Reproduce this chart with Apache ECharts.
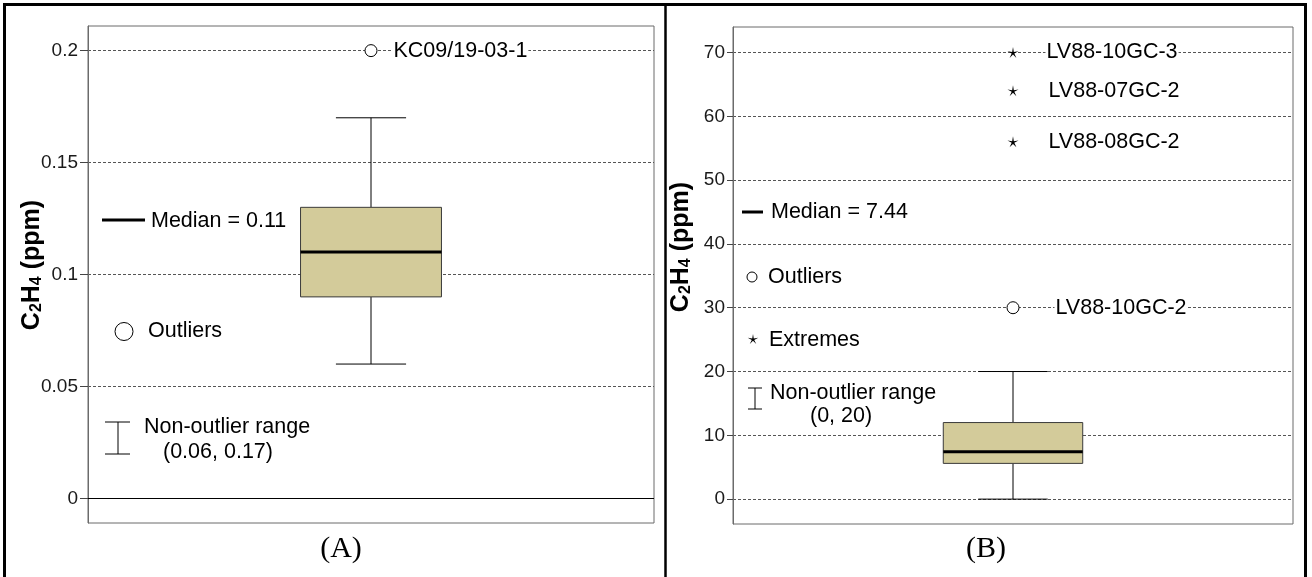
<!DOCTYPE html>
<html>
<head>
<meta charset="utf-8">
<title>C2H4 box plots</title>
<script src="https://cdn.jsdelivr.net/npm/echarts@6/dist/echarts.min.js"></script>
<style>
  html, body { margin: 0; padding: 0; background: #fff; }
  #chart { width: 1312px; height: 577px; }
</style>
</head>
<body>
<div id="chart"></div>
<script>
// ---- data: panel (A) ----
const categoryA = ['A'];
const statsA = [0.06, 0.09, 0.11, 0.13, 0.17];   // low whisker, Q1, median, Q3, high whisker
const outlierNamesA = ['KC09/19-03-1'];
const outlierValuesA = [0.2];
const ticksA = [0, 0.05, 0.1, 0.15, 0.2];

// ---- data: panel (B) ----
const categoryB = ['B'];
const statsB = [0, 5.6, 7.44, 12, 20];
const outlierNamesB = ['LV88-10GC-2'];
const outlierValuesB = [30];
const extremeNamesB = ['LV88-10GC-3', 'LV88-07GC-2', 'LV88-08GC-2'];
const extremeValuesB = [70, 64, 56];
const ticksB = [0, 10, 20, 30, 40, 50, 60, 70];

const SANS = '"Liberation Sans", Arial, Helvetica, sans-serif';
const SERIF = '"Liberation Serif", "Times New Roman", serif';
const BOX_FILL = '#d3cb9a';
const FRAME = '#6b6b6b';
const NOTE_SIZE = 21.5;

// thin five-pointed star used for extreme values
function starPoints(cx, cy, R, r) {
  const pts = [];
  for (let i = 0; i < 10; i++) {
    const a = -Math.PI / 2 + i * Math.PI / 5;
    const rad = i % 2 ? r : R;
    pts.push([cx + rad * Math.cos(a), cy + rad * Math.sin(a)]);
  }
  return pts;
}
const STAR_PATH = 'path://M' + starPoints(0, 0, 10, 2.4)
  .map(p => p[0].toFixed(2) + ',' + p[1].toFixed(2)).join('L') + 'Z';

function xAxisFor(gridIndex, cats) {
  return {
    type: 'category', gridIndex, data: cats, boundaryGap: true,
    axisLine: { show: false }, axisTick: { show: false },
    axisLabel: { show: false }, splitLine: { show: false }
  };
}

function yAxisFor(gridIndex, min, max, ticks, margin, tickLen) {
  return {
    type: 'value', gridIndex, min, max,
    axisLine: { show: true, lineStyle: { color: FRAME, width: 1 } },
    axisTick: { show: true, length: tickLen, customValues: ticks, lineStyle: { color: '#444' } },
    axisLabel: {
      customValues: ticks, margin, fontFamily: SANS, fontSize: 19, color: '#1a1a1a'
    },
    splitLine: { show: true, lineStyle: { type: [3, 2], color: '#555', width: 1 } }
  };
}

// box, whiskers, caps and median drawn through the axis scales
function boxSeries(idx, stats, zeroLine) {
  const s = {
    type: 'custom', xAxisIndex: idx, yAxisIndex: idx, z: 3, silent: true,
    data: [[0].concat(stats)],
    encode: { x: 0, y: [1, 2, 3, 4, 5] },
    renderItem(params, api) {
      const x = api.value(0);
      const band = api.size([1, 0])[0];
      const half = band * 0.1245;
      const capHalf = band * 0.062;
      const pt = i => api.coord([x, api.value(i)]);
      const lo = pt(1), q1 = pt(2), med = pt(3), q3 = pt(4), hi = pt(5);
      const cx = lo[0];
      const thin = { stroke: '#000', lineWidth: 1 };
      return {
        type: 'group',
        children: [
          { type: 'line', shape: { x1: cx, y1: lo[1], x2: cx, y2: q1[1] }, style: thin },
          { type: 'line', shape: { x1: cx, y1: q3[1], x2: cx, y2: hi[1] }, style: thin },
          { type: 'line', shape: { x1: cx - capHalf, y1: lo[1], x2: cx + capHalf, y2: lo[1] }, style: thin },
          { type: 'line', shape: { x1: cx - capHalf, y1: hi[1], x2: cx + capHalf, y2: hi[1] }, style: thin },
          {
            type: 'rect',
            shape: { x: cx - half, y: q3[1], width: half * 2, height: q1[1] - q3[1] },
            style: { fill: BOX_FILL, stroke: '#3a3a3a', lineWidth: 1 }
          },
          {
            type: 'line', shape: { x1: cx - half, y1: med[1], x2: cx + half, y2: med[1] },
            style: { stroke: '#000', lineWidth: 3 }
          }
        ]
      };
    }
  };
  if (zeroLine) {
    s.markLine = {
      silent: true, symbol: 'none', label: { show: false }, animation: false,
      lineStyle: { color: '#000', type: 'solid', width: 1 },
      data: [{ yAxis: 0 }]
    };
  }
  return s;
}

function pointSeries(idx, names, values, symbol, size, distances) {
  return {
    type: 'scatter', xAxisIndex: idx, yAxisIndex: idx, z: 4, silent: true,
    symbol, symbolSize: size,
    itemStyle: symbol === 'circle'
      ? { color: '#fff', borderColor: '#000', borderWidth: 1, opacity: 1 }
      : { color: '#000', opacity: 1 },
    data: values.map((v, i) => ({
      name: names[i], value: [0, v],
      label: { distance: distances[i] }
    })),
    label: {
      show: true, position: 'right', formatter: '{b}',
      fontFamily: SANS, fontSize: NOTE_SIZE, color: '#000', opacity: 1,
      textBorderWidth: 0, backgroundColor: '#fff', padding: [0, 1]
    }
  };
}

// key entries drawn inside each plot
function keyText(x, y, text) {
  return {
    type: 'text', x, y, z: 10,
    style: { text, fontFamily: SANS, fontSize: NOTE_SIZE, fill: '#000', align: 'left', verticalAlign: 'middle' }
  };
}
function seg(x1, y1, x2, y2, w) {
  return { type: 'line', z: 10, shape: { x1, y1, x2, y2 }, style: { stroke: '#000', lineWidth: w || 1 } };
}
function titleText(x, y) {
  return {
    type: 'text', x, y, rotation: Math.PI / 2, z: 10,
    style: {
      text: 'C{s|2}H{s|4} (ppm)',
      fontFamily: SANS, fontSize: 25, fontWeight: 'bold', fill: '#000',
      align: 'center', verticalAlign: 'middle',
      rich: { s: { fontFamily: SANS, fontSize: 16, fontWeight: 'bold', verticalAlign: 'bottom', lineHeight: 16 } }
    }
  };
}

const graphics = [
  // table frame
  { type: 'rect', z: 0, shape: { x: 4.5, y: 4.5, width: 1301, height: 600 },
    style: { fill: 'none', stroke: '#000', lineWidth: 3 } },
  seg(665.5, 3, 665.5, 577, 2.5),

  // panel A key
  seg(102, 220, 145, 220, 3),
  keyText(151, 221, 'Median = 0.11'),
  { type: 'circle', z: 10, shape: { cx: 124, cy: 331.5, r: 9 }, style: { fill: '#fff', stroke: '#000', lineWidth: 1 } },
  keyText(148, 331, 'Outliers'),
  seg(118, 422, 118, 454), seg(105, 422, 130, 422), seg(105, 454, 130, 454),
  keyText(144, 427, 'Non-outlier range'),
  keyText(163, 452, '(0.06, 0.17)'),
  titleText(32, 265),
  { type: 'text', x: 341, y: 549, z: 10,
    style: { text: '(A)', fontFamily: SERIF, fontSize: 30, fill: '#000', align: 'center', verticalAlign: 'middle' } },

  // panel B key
  seg(742, 212, 763, 212, 3),
  keyText(771, 212, 'Median = 7.44'),
  { type: 'circle', z: 10, shape: { cx: 752, cy: 277, r: 5 }, style: { fill: '#fff', stroke: '#000', lineWidth: 1 } },
  keyText(768, 277, 'Outliers'),
  { type: 'polygon', z: 10, shape: { points: starPoints(753, 339.5, 5.5, 1.3) }, style: { fill: '#000' } },
  keyText(769, 340, 'Extremes'),
  seg(755, 388, 755, 409), seg(748, 388, 762, 388), seg(748, 409, 762, 409),
  keyText(770, 393, 'Non-outlier range'),
  keyText(810, 416, '(0, 20)'),
  titleText(681, 247),
  { type: 'text', x: 986, y: 549, z: 10,
    style: { text: '(B)', fontFamily: SERIF, fontSize: 30, fill: '#000', align: 'center', verticalAlign: 'middle' } }
];

const chart = echarts.init(document.getElementById('chart'), null, { renderer: 'canvas' });
chart.setOption({
  animation: false,
  backgroundColor: '#fff',
  grid: [
    { left: 88, top: 26, width: 566, height: 497, show: true, borderColor: FRAME, borderWidth: 1 },
    { left: 733, top: 27, width: 560, height: 497, show: true, borderColor: FRAME, borderWidth: 1 }
  ],
  xAxis: [xAxisFor(0, categoryA), xAxisFor(1, categoryB)],
  yAxis: [
    yAxisFor(0, -0.011, 0.211, ticksA, 10, 8),
    yAxisFor(1, -3.9, 74, ticksB, 8, 6)
  ],
  series: [
    boxSeries(0, statsA, true),
    pointSeries(0, outlierNamesA, outlierValuesA, 'circle', 12, [15]),
    boxSeries(1, statsB, false),
    pointSeries(1, outlierNamesB, outlierValuesB, 'circle', 12, [35]),
    pointSeries(1, extremeNamesB, extremeValuesB, STAR_PATH, 11, [27, 29, 29])
  ],
  graphic: graphics
});
</script>
</body>
</html>
